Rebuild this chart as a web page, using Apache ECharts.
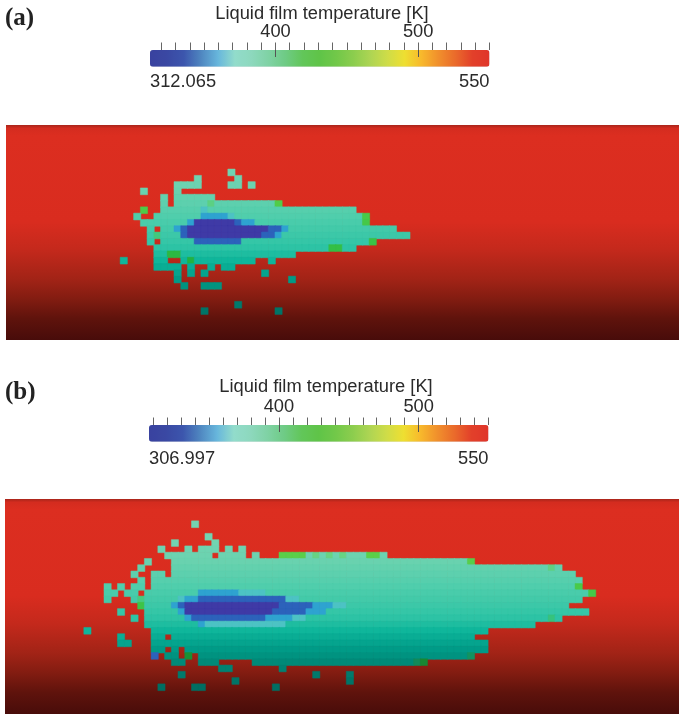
<!DOCTYPE html>
<html>
<head>
<meta charset="utf-8">
<script src="https://cdn.jsdelivr.net/npm/echarts@6/dist/echarts.min.js"></script>
<style>
html,body{margin:0;padding:0;background:#fff}
#chart{width:679px;height:715px;filter:blur(0.7px)}
</style>
</head>
<body>
<div id="chart"></div>
<script>
const D = 315, B = 330, C = 345, S = 360, T = 385, F = 405, G = 425;

// Each run: [row, first column, last column, temperature]; later runs overwrite earlier ones
const filmRunsA = [
  [7,33,33,T],
  [8,28,28,T],[8,34,34,T],
  [9,25,28,T],[9,33,34,T],[9,36,36,T],
  [10,20,20,T],[10,25,25,T],
  [11,23,23,T],[11,25,30,T],
  [12,23,23,T],[12,25,40,T],[12,40,40,G],[12,30,30,F],
  [13,20,20,G],[13,23,51,T],[13,29,29,S],
  [14,19,19,T],[14,22,53,T],[14,53,53,G],[14,29,32,C],[14,33,33,S],
  [15,20,53,T],[15,53,53,G],[15,27,27,C],[15,28,33,D],[15,34,34,B],[15,35,36,C],
  [16,21,21,T],[16,23,57,T],[16,25,25,C],[16,26,26,B],[16,27,38,D],[16,39,40,B],[16,41,41,C],
  [17,21,59,T],[17,22,22,F],[17,26,26,B],[17,27,37,D],[17,38,39,B],[17,40,40,C],
  [18,21,21,T],[18,23,54,T],[18,54,54,G],[18,28,34,B],
  [19,22,51,T],[19,48,49,G],
  [20,22,42,T],[20,24,25,G],
  [21,17,17,T],[21,22,23,T],[21,26,36,T],[21,27,27,G],[21,39,39,T],
  [22,22,25,T],[22,27,27,T],[22,30,30,T],[22,32,33,T],
  [23,25,25,T],[23,27,27,T],[23,29,29,T],[23,38,38,T],
  [24,25,25,T],[24,42,42,T],
  [25,26,26,T],[25,29,31,T],
  [28,34,34,T],
  [29,29,29,T],[29,40,40,T]
];

const filmRunsB = [
  [4,28,28,T],
  [6,30,30,T],
  [7,25,25,T],[7,31,31,T],
  [8,23,23,T],[8,27,27,T],[8,29,31,T],[8,33,33,T],[8,35,35,T],
  [9,24,30,T],[9,32,35,T],[9,37,37,T],[9,41,56,T],[9,41,44,G],[9,46,46,F],[9,48,48,F],[9,50,50,F],[9,54,55,G],
  [10,21,21,T],[10,25,69,T],[10,69,69,G],
  [11,20,20,T],[11,25,82,T],[11,81,81,F],
  [12,19,19,T],[12,22,23,T],[12,25,84,T],
  [13,20,20,T],[13,22,85,T],
  [14,15,15,T],[14,17,17,T],[14,19,20,T],[14,22,85,T],[14,85,85,G],
  [15,15,16,T],[15,18,19,T],[15,21,87,T],[15,87,87,G],[15,29,34,C],[15,35,38,S],
  [16,15,15,T],[16,19,85,T],[16,20,20,F],[16,26,26,S],[16,27,28,C],[16,29,41,B],[16,42,43,S],
  [17,20,83,T],[17,20,20,G],[17,25,25,C],[17,26,26,B],[17,27,40,D],[17,41,45,B],[17,46,48,C],[17,49,50,S],
  [18,17,17,T],[18,21,86,T],[18,26,26,C],[18,27,39,D],[18,40,44,B],[18,45,47,C],
  [19,19,19,T],[19,21,82,T],[19,81,81,F],[19,27,27,C],[19,28,38,B],[19,39,42,C],[19,43,44,S],
  [20,21,78,T],[20,29,29,C],[20,30,41,S],
  [21,12,12,T],[21,22,71,T],
  [22,17,17,T],[22,22,23,T],[22,25,69,T],
  [23,17,18,T],[23,22,71,T],
  [24,22,23,T],[24,25,25,T],[24,27,71,T],
  [25,22,22,B],[25,24,25,T],[25,27,27,G],[25,29,69,T],[25,69,69,F],
  [26,25,26,T],[26,29,31,T],[26,37,62,T],[26,61,61,F],[26,62,62,G],
  [27,32,33,T],[27,41,41,T],
  [28,26,26,T],[28,46,46,T],[28,51,51,T],
  [29,34,34,T],[29,51,51,T],
  [30,23,23,T],[30,28,29,T],[30,40,40,T]
];

const columnCount = 100;
const rowCount = 34;

// Colour-bar scales
const rangeA = [312.065, 550];
const rangeB = [306.997, 550];
const labelledTicks = [400, 500];
const minorTicks = [320,330,340,350,360,370,380,390,400,410,420,430,440,450,460,470,480,490,500,510,520,530,540,550];
const minorTicksB = [310].concat(minorTicks);
const barColours = ['#39429f','#3a48a3','#3c56ad','#4f86c0','#67b6dc','#92dccb','#8dd8bd','#7fd2a4','#6ecb84','#62c659','#5fc448','#72c849','#8ccd4e','#aed553','#cfdc48','#eedf31','#f8b82c','#f08f2c','#ea6a2b','#e2402a','#e0352a'];
const barTitle = 'Liquid film temperature [K]';

const wallStops = [[0,'#a8251a'],[0.015,'#d42c1f'],[0.05,'#dc2e20'],[0.45,'#d92c1f'],[0.58,'#c4291c'],[0.72,'#a12316'],[0.81,'#821c11'],[0.90,'#5f130c'],[1,'#480c0a']];
const filmShadeStops = [[6,[115,212,178]],[10,[105,210,175]],[14,[80,206,172]],[17,[60,200,168]],[19,[45,195,165]],[21,[15,182,155]],[24,[0,155,135]],[26,[0,138,120]],[28,[0,122,108]],[30,[0,110,98]]];
const coldColours = {};
coldColours[D] = '#3f3aa6';
coldColours[B] = '#2c62bb';
coldColours[C] = '#2ea3d0';
coldColours[S] = '#4cc3c4';

function teal(row){
  const s = filmShadeStops;
  if (row <= s[0][0]) return s[0][1];
  for (let i = 1; i < s.length; i++) {
    if (row <= s[i][0]) {
      const f = (row - s[i-1][0]) / (s[i][0] - s[i-1][0]);
      return s[i][1].map((v, j) => Math.round(v + (s[i-1][1][j] - v) * (1 - f)));
    }
  }
  return s[s.length-1][1];
}
function cellColour(k, row){
  if (coldColours[k]) return coldColours[k];
  const t = teal(row);
  if (k === T) return 'rgb(' + t + ')';
  if (k === F) return 'rgb(' + [t[0]*0.8+18, t[1], t[2]*0.75].map(Math.round) + ')';
  return 'rgb(' + [t[0]*0.6+25, t[1]*0.98, t[2]*0.42].map(Math.round) + ')';
}
function expand(runs){
  const cells = new Map();
  runs.forEach(r => { for (let c = r[1]; c <= r[2]; c++) cells.set(c + ',' + r[0], [c, r[0], r[3]]); });
  return Array.from(cells.values()).map(v => {
    const colour = cellColour(v[2], v[1]);
    return { value: v, itemStyle: { color: colour, borderColor: colour, borderWidth: 0.5 } };
  });
}
const indexList = n => Array.from({length:n}, (_, i) => i);

function wallRect(x, y, w, h){
  return { type:'rect', z:0, silent:true, shape:{x, y, width:w, height:h},
    style:{ fill:new echarts.graphic.LinearGradient(0,0,0,1, wallStops.map(s => ({offset:s[0], color:s[1]}))) } };
}
function filmX(g){ return {type:'category', gridIndex:g, data:indexList(columnCount), show:false, boundaryGap:true}; }
function filmY(g){ return {type:'category', gridIndex:g, data:indexList(rowCount), show:false, inverse:true, boundaryGap:true}; }
function hiddenY(g){ return {type:'value', gridIndex:g, show:false, min:0, max:1}; }
const labelFont = { fontFamily:'Liberation Sans', fontSize:18.3, color:'#2a2a2a' };
function axisBase(g, range){
  return { type:'value', gridIndex:g, min:range[0], max:range[1], splitLine:{show:false}, axisLine:{show:false, onZero:false} };
}
function barAxes(g, range, ticks, endMargin){
  return [
    Object.assign(axisBase(g, range), { position:'top',
      axisTick:{show:true, length:7.5, customValues:ticks, lineStyle:{color:'#666', width:1}},
      axisLabel:{show:false} }),
    Object.assign(axisBase(g, range), { position:'bottom',
      axisTick:{show:false},
      axisLabel:Object.assign({show:true, customValues:range, margin:endMargin, alignMinLabel:'left', alignMaxLabel:'right', formatter:v => String(v)}, labelFont) })
  ];
}
function majorAxis(g, range){
  return Object.assign(axisBase(g, range), { position:'top',
    axisTick:{show:true, inside:true, length:7, customValues:labelledTicks, lineStyle:{color:'#555', width:1}},
    axisLabel:Object.assign({show:true, customValues:labelledTicks, margin:9, formatter:String}, labelFont) });
}
// Transparent end-to-end series so that each colour-bar axis has an extent and draws its ticks
function axisCarrier(xIndex, g, range){
  return { type:'line', xAxisIndex:xIndex, yAxisIndex:g, data:[[range[0],0],[range[1],0]],
    showSymbol:false, silent:true, lineStyle:{opacity:0}, z:1 };
}
function colourBar(left, top, range){
  return { type:'continuous', show:true, seriesIndex:[], min:range[0], max:range[1], orient:'horizontal',
    left, top, padding:0, itemWidth:16.7, itemHeight:339.5, calculable:false, hoverLink:false, realtime:false,
    text:null, inRange:{color:barColours}, textStyle:{fontSize:0}, z:0 };
}
function film(g, cells){
  return { type:'heatmap', xAxisIndex:g, yAxisIndex:g, data:cells, progressive:0, silent:true, z:2,
    emphasis:{disabled:true} };
}
function heading(text, left, top){
  return { text, left, top, textAlign:'center', padding:0,
    textStyle:{fontFamily:'Liberation Sans', fontSize:18.3, fontWeight:'normal', color:'#2a2a2a'} };
}
function tag(text, left, top){
  return { text, left, top, padding:0,
    textStyle:{fontFamily:'Liberation Serif', fontSize:25, fontWeight:'bold', color:'#222'} };
}

const chart = echarts.init(document.getElementById('chart'), null, {renderer:'canvas'});
chart.setOption({
  animation:false,
  backgroundColor:'#fff',
  title:[ tag('(a)',5,6), heading(barTitle,322,5), tag('(b)',5,380), heading(barTitle,326,378) ],
  graphic:[ wallRect(6,125,673,215), wallRect(5,499,674,215) ],
  grid:[
    {left:6, top:125.2, width:673, height:214.2},
    {left:3.3, top:496, width:673, height:213.2},
    {left:150, top:50, width:339.5, height:16.7},
    {left:149, top:425, width:339.5, height:16.7},
    {left:150, top:50, width:339.5, height:16.7},
    {left:149, top:425, width:339.5, height:16.7}
  ],
  xAxis:[filmX(0), filmX(1)].concat(
    barAxes(2, rangeA, minorTicks, 6),
    barAxes(3, rangeB, minorTicksB, 8),
    [majorAxis(4, rangeA), majorAxis(5, rangeB)]
  ),
  yAxis:[filmY(0), filmY(1), hiddenY(2), hiddenY(3), hiddenY(4), hiddenY(5)],
  visualMap:[ colourBar(150,50,rangeA), colourBar(149,425,rangeB) ],
  series:[
    film(0, expand(filmRunsA)), film(1, expand(filmRunsB)),
    axisCarrier(2,2,rangeA), axisCarrier(3,2,rangeA),
    axisCarrier(4,3,rangeB), axisCarrier(5,3,rangeB),
    axisCarrier(6,4,rangeA), axisCarrier(7,5,rangeB)
  ]
});
</script>
</body>
</html>
